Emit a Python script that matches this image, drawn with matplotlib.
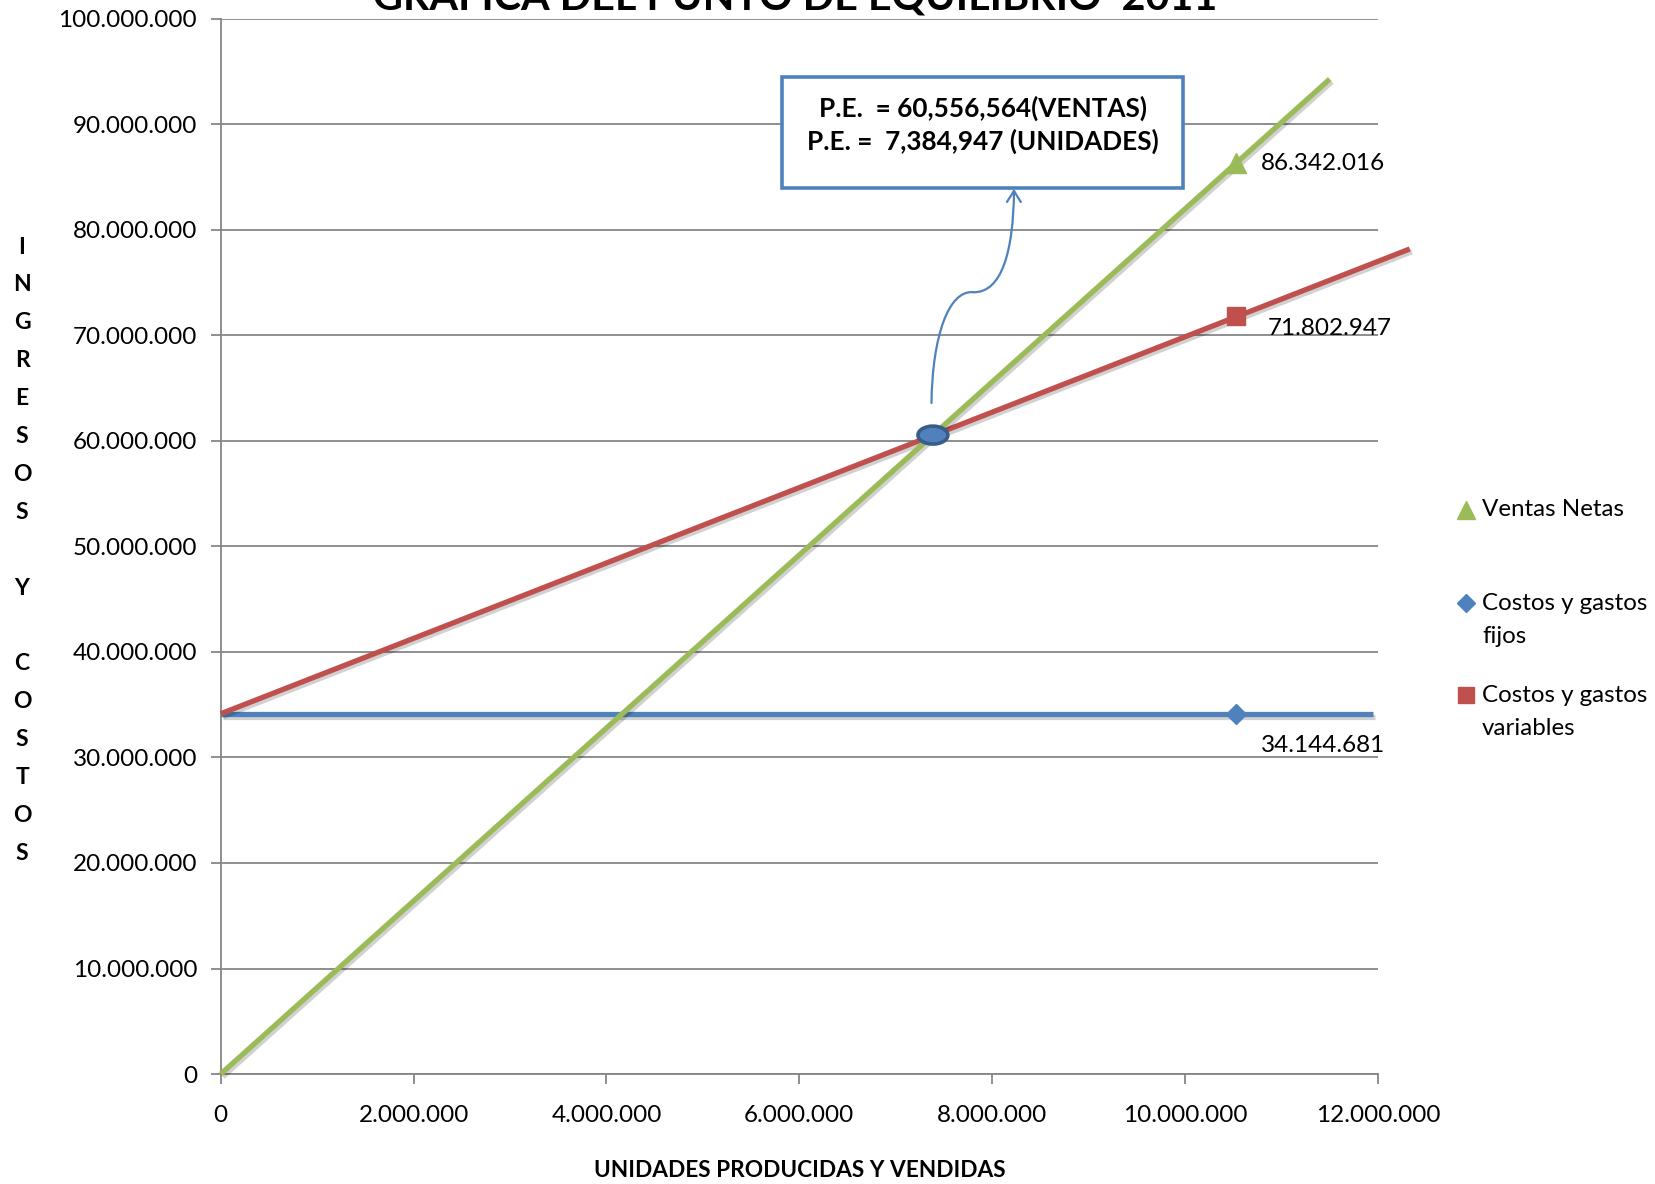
import matplotlib
matplotlib.use('Agg')
import matplotlib.pyplot as plt
import matplotlib.patheffects as pe
from matplotlib.patches import Rectangle, Ellipse, FancyArrowPatch
from matplotlib.path import Path
from matplotlib.lines import Line2D
from matplotlib.ticker import FuncFormatter

plt.rcParams['font.family'] = ['Lato', 'DejaVu Sans']

# rectas del grafico (unidades, pesos)
ventas_x = [0, 11500000]
ventas_y = [0, 94300000]
variables_x = [0, 12330000]
variables_y = [34144681, 78200000]
fijos_x = [0, 11950000]
fijos_y = [34144681, 34144681]

# puntos marcados con su valor
punto_unidades = 10529514
punto_ventas = 86342016
punto_variables = 71802947
punto_fijos = 34144681

# punto de equilibrio
pe_unidades = 7384947
pe_ventas = 60556564

verde = '#9BBB59'
rojo = '#C0504D'
azul = '#4F81BD'
gris = '#868686'

fig = plt.figure(figsize=(16.56, 11.84), dpi=100)
ax = fig.add_axes([0.1333, 0.0929, 0.6988, 0.8911])

ax.set_xlim(0, 12000000)
ax.set_ylim(0, 100000000)
ax.set_xticks(range(0, 12000001, 2000000))
ax.set_yticks(range(0, 100000001, 10000000))
miles = FuncFormatter(lambda v, p: f'{int(v):,}'.replace(',', '.'))
ax.xaxis.set_major_formatter(miles)
ax.yaxis.set_major_formatter(miles)
ax.tick_params(axis='both', labelsize=17.5, colors=gris, labelcolor='black',
               length=7, width=1.3)
ax.tick_params(axis='y', pad=10)
ax.tick_params(axis='x', pad=15)
ax.grid(axis='y', color=gris, linewidth=1.3)
ax.set_axisbelow(True)
for s in ['top', 'right']:
    ax.spines[s].set_visible(False)
for s in ['left', 'bottom']:
    ax.spines[s].set_color(gris)
    ax.spines[s].set_linewidth(1.3)

sombra = [pe.SimpleLineShadow(offset=(1.5, -2), alpha=0.18, shadow_color='black'), pe.Normal()]
ax.plot(fijos_x, fijos_y, color=azul, lw=3.8, solid_capstyle='butt', clip_on=False, path_effects=sombra, zorder=3)
ax.plot(variables_x, variables_y, color=rojo, lw=3.8, solid_capstyle='butt', clip_on=False, path_effects=sombra, zorder=4)
ax.plot(ventas_x, ventas_y, color=verde, lw=3.8, solid_capstyle='butt', clip_on=False, path_effects=sombra, zorder=5)

ax.plot([punto_unidades], [punto_ventas], marker='^', ms=14, color=verde, ls='none', zorder=6)
ax.plot([punto_unidades], [punto_variables], marker='s', ms=12.5, color=rojo, ls='none', zorder=6)
ax.plot([punto_unidades], [punto_fijos], marker='D', ms=10, color=azul, ls='none', zorder=6)

fmt = lambda v: f'{v:,}'.replace(',', '.')
ax.annotate(fmt(punto_ventas), (punto_unidades, punto_ventas), xytext=(18, 0),
            textcoords='offset points', va='center', ha='left', fontsize=17.5)
ax.annotate(fmt(punto_variables), (punto_unidades, punto_variables), xytext=(23, -9),
            textcoords='offset points', va='center', ha='left', fontsize=17.5)
ax.annotate(fmt(punto_fijos), (punto_unidades, punto_fijos), xytext=(18, -23),
            textcoords='offset points', va='center', ha='left', fontsize=17.5)

# elipse sobre el punto de equilibrio
ax.add_patch(Ellipse((pe_unidades, pe_ventas), 310000, 1700000, facecolor=azul,
                     edgecolor='#385D8A', lw=2.6, zorder=7))

# cuadro con los valores del punto de equilibrio
ax.add_patch(Rectangle((0.4847, 0.8401), 0.3468, 0.1052, transform=ax.transAxes,
                       facecolor='white', edgecolor=azul, lw=2.6, zorder=8, clip_on=False))
ax.text(0.6587, 0.9154, 'P.E.  = 60,556,564(VENTAS)', transform=ax.transAxes,
        ha='center', va='center', fontsize=18.8, fontweight='bold', zorder=9)
ax.text(0.6587, 0.8837, 'P.E. =  7,384,947 (UNIDADES)', transform=ax.transAxes,
        ha='center', va='center', fontsize=18.8, fontweight='bold', zorder=9)

# flecha curva hacia el cuadro
verts = [(7370000, 63600000),
         (7380000, 70000000), (7550000, 74300000), (7800000, 74100000),
         (8100000, 74000000), (8220000, 78000000), (8226000, 83900000)]
codes = [Path.MOVETO] + [Path.CURVE4] * 6
flecha = FancyArrowPatch(path=Path(verts, codes), arrowstyle='->,head_length=8,head_width=5',
                         color=azul, lw=1.6, zorder=8)
ax.add_patch(flecha)

# titulo (recortado en el borde superior)
fig.text(0.4804, 0.9916, 'GRAFICA DEL PUNTO DE EQUILIBRIO  2011', ha='center',
         va='baseline', fontsize=29.7, fontweight='bold')

# etiqueta eje x
fig.text(0.483, 0.0118, 'UNIDADES PRODUCIDAS Y VENDIDAS', ha='center', va='center',
         fontsize=16.3, fontweight='bold')

# etiqueta eje y en vertical, letra por letra
for i, c in enumerate(['I', 'N', 'G', 'R', 'E', 'S', 'O', 'S', '', 'Y', '', 'C', 'O', 'S', 'T', 'O', 'S']):
    fig.text(0.0133, 1 - (247 + i * 37.9) / 1184, c, ha='center', va='center',
             fontsize=16.5, fontweight='bold')

# leyenda
leyenda = [('^', verde, 13, ['Ventas Netas'], 0.5693),
           ('D', azul, 9, ['Costos y gastos', 'fijos'], 0.4907),
           ('s', rojo, 12, ['Costos y gastos', 'variables'], 0.4130)]
for m, col, ms, lineas, y in leyenda:
    fig.add_artist(Line2D([0.8853], [y], marker=m, color=col, ms=ms, ls='none',
                          transform=fig.transFigure))
    for j, t in enumerate(lineas):
        fig.text(0.895, y - j * 0.0279, t, ha='left', va='center', fontsize=17.4)

fig.savefig('out.png', dpi=100)
